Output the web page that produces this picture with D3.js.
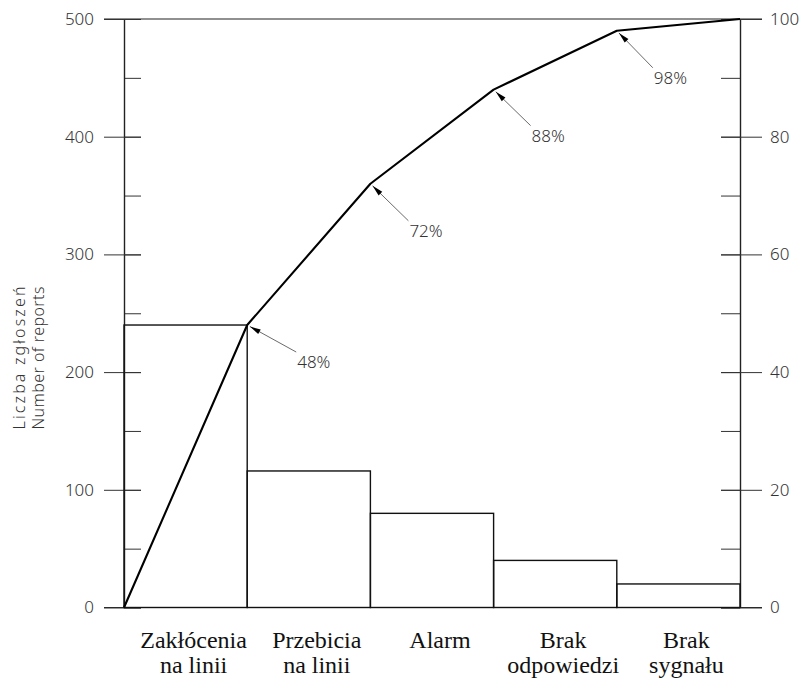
<!DOCTYPE html>
<html>
<head>
<meta charset="utf-8">
<script src="https://cdn.jsdelivr.net/npm/d3@7"></script>
<style>
  body { margin: 0; background: #fff; }
  .tick text { font-family: "Noto Sans", "DejaVu Sans", sans-serif; font-weight: 300; font-size: 17px; fill: #333; }
</style>
</head>
<body>
<svg id="chart"></svg>
<script>
// categories (label lines), bar counts, cumulative share
var categories = [["Zakłócenia", "na linii"], ["Przebicia", "na linii"], ["Alarm"], ["Brak", "odpowiedzi"], ["Brak", "sygnału"]];
var counts = [240, 116, 80, 40, 20];
var cumPercent = [0, 48, 72, 88, 98, 100];
var leftTicks = [0, 100, 200, 300, 400, 500];
var rightTicks = [0, 20, 40, 60, 80, 100];
var axisTitle = ["Liczba  zgłoszeń", "Number of reports"];

var width = 801, height = 680;
var plot = {left: 124, right: 740, top: 19, bottom: 607.5};

var svg = d3.select("#chart")
    .attr("width", width)
    .attr("height", height);

var keys = categories.map((d) => d.join(" "));

var x = d3.scaleBand().domain(keys).range([plot.left, plot.right]).padding(0);
var y = d3.scaleLinear().domain([0, 500]).range([plot.bottom, plot.top]);
var yPct = d3.scaleLinear().domain([0, 100]).range([plot.bottom, plot.top]);

// frame lines top and bottom (the 500 / 0 ticks run across)
svg.selectAll("line.frame")
  .data([500, 0])
  .enter()
  .append("line")
  .attr("class", "frame")
  .attr("x1", plot.left - 20)
  .attr("x2", plot.right + 22)
  .attr("y1", (d) => y(d))
  .attr("y2", (d) => y(d))
  .attr("stroke", "#222")
  .attr("stroke-width", 1.2);

// left axis: minor inward ticks, major ticks across with labels
var leftMinor = svg.append("g")
    .attr("transform", "translate(" + plot.left + ",0)")
    .call(d3.axisLeft(y).ticks(10).tickSize(-17).tickFormat(""));
leftMinor.select(".domain").remove();

var leftMajor = svg.append("g")
    .attr("transform", "translate(" + plot.left + ",0)")
    .call(d3.axisLeft(y).tickValues(leftTicks).tickSize(20).tickSizeOuter(0).tickPadding(10));
leftMajor.selectAll(".tick line").attr("x2", -20).attr("x1", 17);

var rightMinor = svg.append("g")
    .attr("transform", "translate(" + plot.right + ",0)")
    .call(d3.axisRight(yPct).ticks(10).tickSize(-19).tickFormat(""));
rightMinor.select(".domain").remove();

var rightMajor = svg.append("g")
    .attr("transform", "translate(" + plot.right + ",0)")
    .call(d3.axisRight(yPct).tickValues(rightTicks).tickSize(22).tickSizeOuter(0).tickPadding(8));
rightMajor.selectAll(".tick line").attr("x1", -19);

svg.selectAll(".domain").attr("stroke", "#222").attr("stroke-width", 1.4);
svg.selectAll(".tick line").attr("stroke", "#333").attr("stroke-width", 1);

// bars
svg.append("g")
  .selectAll("rect")
  .data(counts)
  .enter()
  .append("rect")
  .attr("x", (d, i) => x(keys[i]))
  .attr("y", (d) => y(d))
  .attr("width", x.bandwidth())
  .attr("height", (d) => y(0) - y(d))
  .attr("fill", "none")
  .attr("stroke", "#111")
  .attr("stroke-width", 1.4);

// cumulative curve, vertices on the right edges of the bars
var edgeX = (i) => i === 0 ? plot.left : x(keys[i - 1]) + x.bandwidth();
var points = cumPercent.map((p, i) => [edgeX(i), yPct(p)]);

svg.append("path")
  .datum(points)
  .attr("d", d3.line())
  .attr("fill", "none")
  .attr("stroke", "#000")
  .attr("stroke-width", 2.1)
  .attr("stroke-linejoin", "round");

// percentage callouts with leader and arrowhead
var leaderOffsets = [[49, 27], [38, 37], [37, 36], [36, 37]];
var callouts = svg.append("g");
points.slice(1, 5).forEach(function(pt, k) {
  var off = leaderOffsets[k];
  var len = Math.hypot(off[0], off[1]);
  var ux = off[0] / len, uy = off[1] / len;
  callouts.append("line")
    .attr("x1", pt[0] + ux * 3).attr("y1", pt[1] + uy * 3)
    .attr("x2", pt[0] + off[0]).attr("y2", pt[1] + off[1])
    .attr("stroke", "#444").attr("stroke-width", 0.8);
  var tip = [pt[0] + ux * 3, pt[1] + uy * 3];
  var base = [pt[0] + ux * 14, pt[1] + uy * 14];
  callouts.append("path")
    .attr("d", "M" + tip + "L" + [base[0] - uy * 2.6, base[1] + ux * 2.6] +
               "L" + [base[0] + uy * 2.6, base[1] - ux * 2.6] + "Z")
    .attr("fill", "#000");
  callouts.append("text")
    .attr("x", pt[0] + off[0] + 1)
    .attr("y", pt[1] + off[1] + 16)
    .attr("font-family", "Noto Sans, DejaVu Sans, sans-serif")
    .attr("font-weight", 300)
    .attr("font-size", 17)
    .attr("fill", "#333")
    .text(cumPercent[k + 1] + "%");
});

// category labels
svg.append("g")
  .selectAll("text")
  .data(categories)
  .enter()
  .append("text")
  .attr("x", (d, i) => x(keys[i]) + x.bandwidth() / 2 + 8)
  .attr("y", 648)
  .attr("text-anchor", "middle")
  .attr("font-family", "Liberation Serif, Times New Roman, serif")
  .attr("font-size", 24)
  .attr("fill", "#111")
  .selectAll("tspan")
  .data((d) => d)
  .enter()
  .append("tspan")
  .attr("x", function() { return d3.select(this.parentNode).attr("x"); })
  .attr("dy", (d, j) => j === 0 ? 0 : 25)
  .text((d) => d);

// rotated axis title, two lines
svg.append("g")
  .selectAll("text")
  .data(axisTitle)
  .enter()
  .append("text")
  .attr("transform", (d, i) => "translate(" + (25 + i * 19) + ",358) rotate(-90)")
  .attr("text-anchor", "middle")
  .attr("font-family", "Noto Sans, DejaVu Sans, sans-serif")
  .attr("font-weight", 300)
  .attr("font-size", 16)
  .attr("fill", "#333")
  .attr("textLength", 143)
  .attr("lengthAdjust", "spacing")
  .text((d) => d);
</script>
</body>
</html>
